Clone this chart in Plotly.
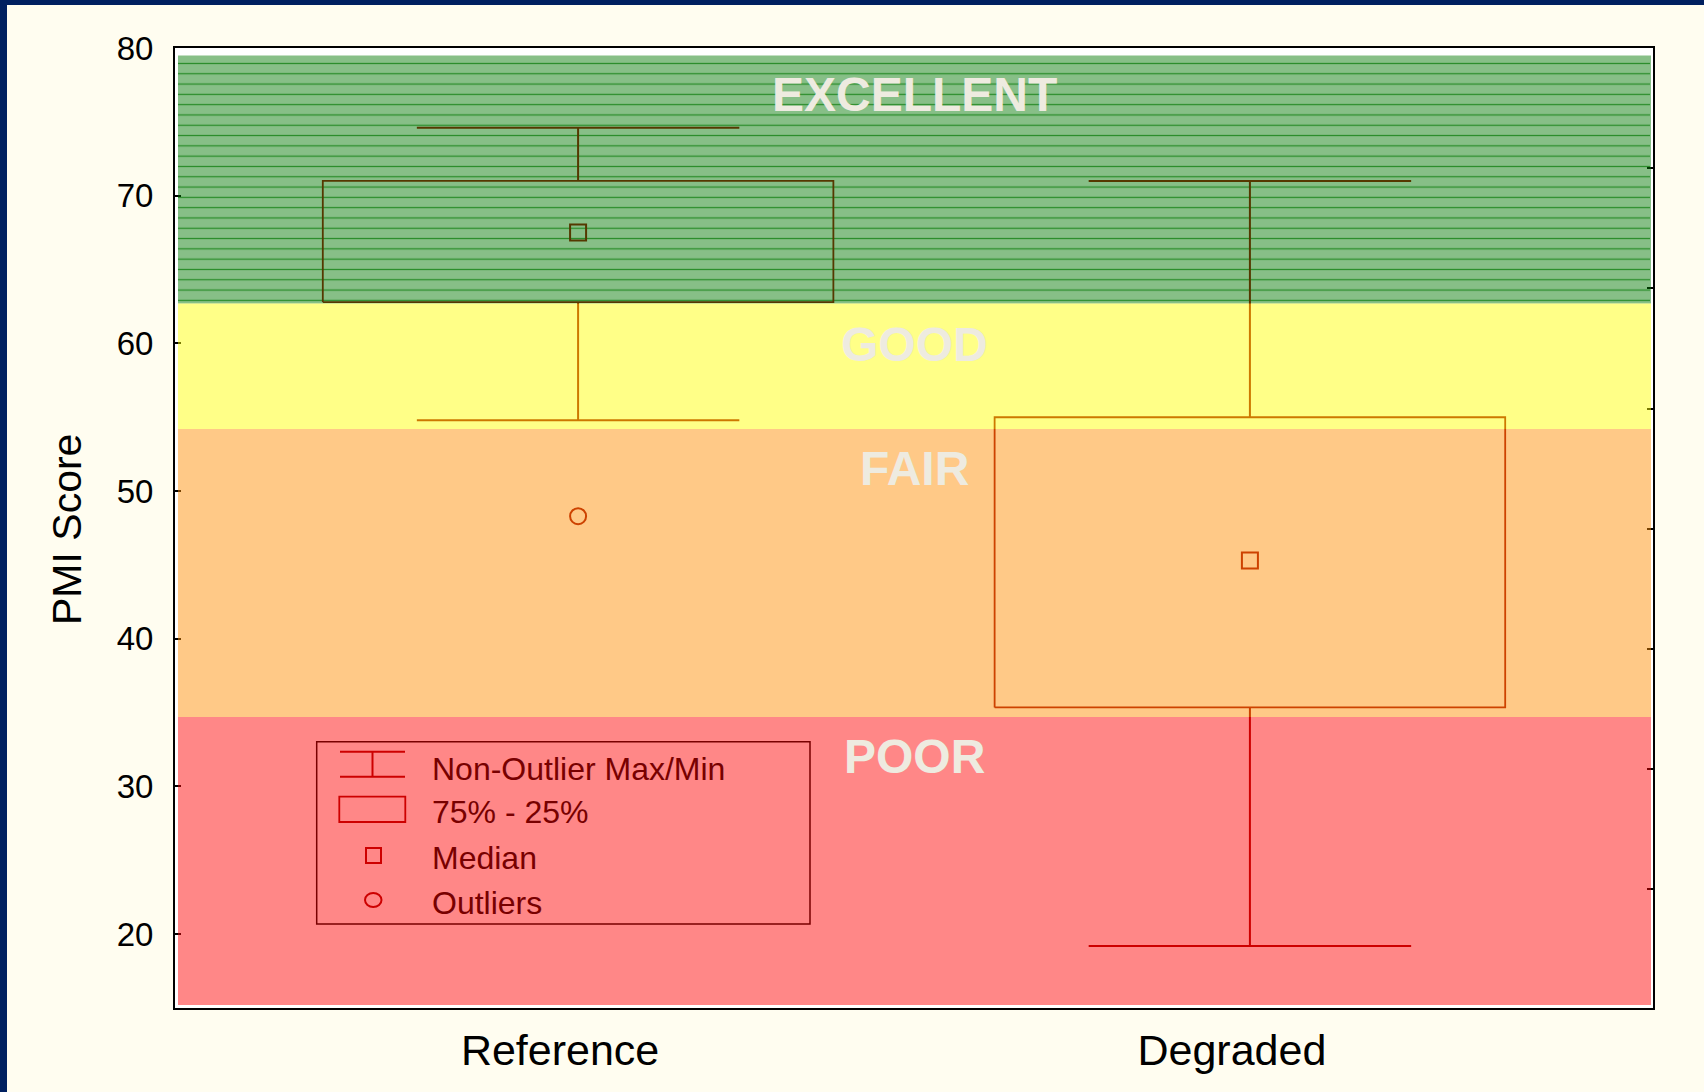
import plotly.graph_objects as go

# ---------------- data ----------------
categories = ["Reference", "Degraded"]
whisker_max = [74.6, 71.0]
q3 = [71.0, 55.0]
median = [67.5, 45.3]
q1 = [62.8, 35.35]
whisker_min = [54.8, 19.2]
outlier_cat = ["Reference"]
outlier_val = [48.3]

band_names = ["EXCELLENT", "GOOD", "FAIR", "POOR"]
band_top = [79.5, 62.7, 54.2, 34.7]
band_bottom = [62.7, 54.2, 34.7, 15.2]
band_label_y = [76.85, 59.9, 51.5, 32.05]

y_ticks = [20, 30, 40, 50, 60, 70, 80]
right_ticks = [23.07, 31.16, 39.32, 47.42, 55.59, 63.75, 71.85]
legend_labels = ["Non-Outlier Max/Min", "75% - 25%", "Median", "Outliers"]

# ---------------- style ----------------
W, H = 1704, 1092
ML, MR, MT, MB = 175, 51, 48, 84
PW, PH = W - ML - MR, H - MT - MB
LINE = "#A00000"
FONT = "Arial, Liberation Sans, sans-serif"
band_colors = ["rgba(0,119,0,0.47)", "rgba(255,255,0,0.47)",
               "rgba(255,140,0,0.47)", "rgba(255,0,0,0.47)"]
BOX_HW = 0.38
CAP_HW = 0.24


def px(xp):
    return (xp - ML) / PW


def py(yp):
    return (H - MB - yp) / PH


xpos = {c: i for i, c in enumerate(categories)}

fig = go.Figure()

# green band stripe texture (below the boxes, tinted by the overlay)
fig.add_trace(go.Bar(
    x=[0.5], y=[band_top[0] - band_bottom[0]], base=[band_bottom[0]], width=[2.19],
    marker=dict(color="rgba(0,0,0,0)", line=dict(width=0),
                pattern=dict(shape="-", fgcolor="rgb(75,158,75)", bgcolor="rgba(0,0,0,0)",
                             size=10.3, solidity=0.12, fillmode="replace")),
    hoverinfo="skip", showlegend=False))

# box outlines, whiskers and caps
bx, by = [], []
wx, wy = [], []
for i, c in enumerate(categories):
    x = xpos[c]
    bx += [x - BOX_HW, x + BOX_HW, x + BOX_HW, x - BOX_HW, x - BOX_HW, None]
    by += [q1[i], q1[i], q3[i], q3[i], q1[i], None]
    wx += [x, x, None, x - CAP_HW, x + CAP_HW, None,
           x, x, None, x - CAP_HW, x + CAP_HW, None]
    wy += [q3[i], whisker_max[i], None, whisker_max[i], whisker_max[i], None,
           q1[i], whisker_min[i], None, whisker_min[i], whisker_min[i], None]

fig.add_trace(go.Scatter(x=bx, y=by, mode="lines", line=dict(color=LINE, width=1.8),
                         hoverinfo="skip", showlegend=False))
fig.add_trace(go.Scatter(x=wx, y=wy, mode="lines", line=dict(color=LINE, width=2),
                         hoverinfo="skip", showlegend=False))
fig.add_trace(go.Scatter(x=[xpos[c] for c in categories], y=median, mode="markers",
                         marker=dict(symbol="square-open", size=16, color=LINE,
                                     line=dict(width=2, color=LINE)),
                         showlegend=False))
fig.add_trace(go.Scatter(x=[xpos[c] for c in outlier_cat], y=outlier_val, mode="markers",
                         marker=dict(symbol="circle-open", size=16, color=LINE,
                                     line=dict(width=2, color=LINE)),
                         showlegend=False))
# empty trace so the right-hand tick axis is drawn
fig.add_trace(go.Scatter(x=[None], y=[None], yaxis="y2", mode="markers",
                         hoverinfo="skip", showlegend=False))

shapes = []
# custom legend (drawn before the overlays so it gets tinted)
lg = dict(xref="paper", yref="paper", layer="above")
shapes.append(dict(type="rect", x0=px(316.7), x1=px(810), y0=py(924), y1=py(741.7),
                   line=dict(color="black", width=1.5), fillcolor="rgba(0,0,0,0)", **lg))
shapes.append(dict(type="line", x0=px(340), x1=px(405), y0=py(751.7), y1=py(751.7),
                   line=dict(color=LINE, width=2), **lg))
shapes.append(dict(type="line", x0=px(340), x1=px(405), y0=py(776.7), y1=py(776.7),
                   line=dict(color=LINE, width=2), **lg))
shapes.append(dict(type="line", x0=px(372.5), x1=px(372.5), y0=py(751.7), y1=py(776.7),
                   line=dict(color=LINE, width=2), **lg))
shapes.append(dict(type="rect", x0=px(339.3), x1=px(405.3), y0=py(822), y1=py(796.7),
                   line=dict(color=LINE, width=1.8), fillcolor="rgba(0,0,0,0)", **lg))
shapes.append(dict(type="rect", x0=px(366), x1=px(381), y0=py(863), y1=py(848),
                   line=dict(color=LINE, width=2), fillcolor="rgba(0,0,0,0)", **lg))
shapes.append(dict(type="circle", x0=px(365), x1=px(381.5), y0=py(907), y1=py(893),
                   line=dict(color=LINE, width=2), fillcolor="rgba(0,0,0,0)", **lg))

# semi-transparent quality bands on top of the boxes
for i in range(len(band_names)):
    shapes.append(dict(type="rect", xref="x domain", yref="y", layer="above",
                       x0=3 / PW, x1=1 - 2 / PW, y0=band_bottom[i], y1=band_top[i],
                       fillcolor=band_colors[i], line=dict(width=0)))

# navy frame at top and left
shapes.append(dict(type="rect", xref="paper", yref="paper", layer="above",
                   x0=-ML / PW - 0.01, x1=(-ML + 7) / PW, y0=-MB / PH - 0.01, y1=1 + MT / PH + 0.01,
                   fillcolor="#002060", line=dict(width=0)))
shapes.append(dict(type="rect", xref="paper", yref="paper", layer="above",
                   x0=-ML / PW - 0.01, x1=1 + MR / PW + 0.01, y0=1 + (MT - 5) / PH, y1=1 + MT / PH + 0.01,
                   fillcolor="#002060", line=dict(width=0)))

annotations = []
for i, name in enumerate(band_names):
    annotations.append(dict(x=0.5, y=band_label_y[i], xref="x", yref="y", text=name,
                            showarrow=False, xanchor="center", yanchor="middle",
                            font=dict(family=FONT, size=48, color="#EEEBE0", weight="bold")))

leg_text_y = [769, 812, 858, 903]
for lab, yy in zip(legend_labels, leg_text_y):
    annotations.append(dict(x=px(430), y=py(yy), xref="paper", yref="paper", text=lab,
                            showarrow=False, xanchor="left", yanchor="middle",
                            font=dict(family=FONT, size=32, color="#780000")))

annotations.append(dict(x=px(67), y=py(530), xref="paper", yref="paper", text="PMI Score",
                        showarrow=False, textangle=-90, xanchor="center", yanchor="middle",
                        font=dict(family=FONT, size=41, color="black")))

fig.update_layout(
    width=W, height=H, autosize=False,
    margin=dict(l=ML, r=MR, t=MT, b=MB, pad=0),
    paper_bgcolor="#FFFDF0", plot_bgcolor="white",
    barmode="overlay", bargap=0,
    showlegend=False,
    shapes=shapes, annotations=annotations,
    xaxis=dict(range=[-0.6, 1.6], tickvals=[xpos[c] for c in categories], ticktext=categories,
               showgrid=False, zeroline=False, showline=True, linecolor="black", linewidth=2,
               mirror=True, ticks="", ticklabelshift=-18, ticklabelstandoff=3,
               tickfont=dict(family=FONT, size=43, color="black")),
    yaxis=dict(range=[15, 80], tickvals=y_ticks, showgrid=False, zeroline=False,
               showline=True, linecolor="black", linewidth=2, mirror=True,
               ticks="inside", ticklen=6, tickwidth=2, tickcolor="black",
               ticklabelstandoff=13,
               tickfont=dict(family=FONT, size=33, color="black")),
    yaxis2=dict(range=[15, 80], overlaying="y", side="right", tickvals=right_ticks,
                showticklabels=False, showgrid=False, zeroline=False, showline=False,
                ticks="inside", ticklen=6, tickwidth=2, tickcolor="black"),
)

fig.write_html("out.html", config={"displayModeBar": False},
               post_script="document.body.style.margin='0';document.body.style.padding='0';")
